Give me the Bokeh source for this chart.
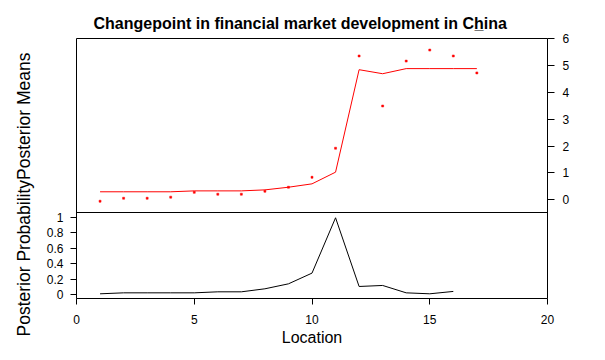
import math
from bokeh.plotting import figure
from bokeh.models import Range1d, LinearAxis, FixedTicker, Span, Title
from bokeh.embed import file_html
from bokeh.resources import INLINE

# ---------------- data ----------------
location = list(range(1, 18))
observed = [-0.05, 0.06, 0.06, 0.10, 0.28, 0.21, 0.21, 0.32, 0.47, 0.84,
            1.92, 5.35, 3.49, 5.16, 5.57, 5.35, 4.72]
posterior_mean = [0.30, 0.30, 0.30, 0.30, 0.334, 0.334, 0.334, 0.371, 0.47, 0.595,
                  1.03, 4.84, 4.69, 4.88, 4.88, 4.88, 4.88]
prob_location = list(range(1, 17))
posterior_prob = [0.0125, 0.025, 0.025, 0.025, 0.025, 0.038, 0.038, 0.077, 0.141, 0.279,
                  0.992, 0.107, 0.12, 0.025, 0.0125, 0.043]

x_ticks = [0, 5, 10, 15, 20]
mean_ticks = [0, 1, 2, 3, 4, 5, 6]
prob_ticks = [0, 0.2, 0.4, 0.6, 0.8, 1]
prob_tick_labels = ["0", "0.2", "0.4", "0.6", "0.8", "1"]

title_text = "Changepoint in financial market development in Ch\u0332ina"
ylabel_text = "Posterior ProbabilityPosterior Means"
xlabel_text = "Location"

# ---------------- layout ----------------
FONT = "Liberation Sans"
W, H = 600, 356
FRAME_H = 260
TOP_PX, BOT_PX = 174, 86
TOP_LIM = (-0.47, 6.0)
BOT_LIM = (-0.048, 1.06)

top_end = TOP_LIM[1]
top_start = TOP_LIM[1] - (TOP_LIM[1] - TOP_LIM[0]) * FRAME_H / TOP_PX
bot_start = BOT_LIM[0]
bot_end = BOT_LIM[0] + (BOT_LIM[1] - BOT_LIM[0]) * FRAME_H / BOT_PX

p = figure(width=W, height=H, output_backend="svg", toolbar_location=None,
           x_range=Range1d(0, 20), y_range=Range1d(bot_start, bot_end),
           min_border_left=76, min_border_right=W - 76 - 471, min_border_top=38,
           min_border_bottom=H - 38 - FRAME_H, x_axis_location=None, y_axis_location=None)
p.extra_y_ranges = {"top": Range1d(top_start, top_end)}
p.xgrid.visible = False
p.ygrid.visible = False
p.outline_line_color = "black"
p.outline_line_width = 1
p.outline_line_alpha = 1.0
p.background_fill_color = "white"
p.border_fill_color = "white"

p.title.text = title_text
p.title.align = "left"
p.title.offset = 17
p.title.standoff = 13
p.title.text_font = FONT
p.title.text_font_size = "16px"
p.title.text_font_style = "bold"
p.title.text_color = "black"


def style_axis(ax, tick_out, standoff):
    ax.axis_line_color = None
    ax.major_tick_in = 0
    ax.major_tick_out = tick_out
    ax.major_tick_line_color = "black"
    ax.minor_tick_line_color = None
    ax.major_label_text_font = FONT
    ax.major_label_text_font_size = "12px"
    ax.major_label_text_color = "black"
    ax.major_label_standoff = standoff
    ax.axis_label_text_font = FONT
    ax.axis_label_text_font_style = "normal"
    ax.axis_label_text_color = "black"


xaxis = LinearAxis(ticker=FixedTicker(ticks=x_ticks), axis_label=xlabel_text)
style_axis(xaxis, 6, 10)
xaxis.axis_label_text_font_size = "16px"
xaxis.axis_label_standoff = 2
p.add_layout(xaxis, "below")

left_axis = LinearAxis(ticker=FixedTicker(ticks=prob_ticks))
left_axis.major_label_overrides = {t: s for t, s in zip(prob_ticks, prob_tick_labels)}
style_axis(left_axis, 6, 7)
left_axis.major_label_orientation = "horizontal"
p.add_layout(left_axis, "left")

right_axis = LinearAxis(y_range_name="top", ticker=FixedTicker(ticks=mean_ticks))
style_axis(right_axis, 7, 8)
right_axis.major_label_orientation = "horizontal"
p.add_layout(right_axis, "right")

ytitle = Title(text=ylabel_text, align="left", offset=-38, standoff=20,
               text_font=FONT, text_font_size="17.5px", text_font_style="normal",
               text_color="black")
p.add_layout(ytitle, "left")

# panel divider
p.add_layout(Span(location=BOT_LIM[1], dimension="width",
                  line_color="black", line_width=1))

# top panel: posterior means
p.line(location, posterior_mean, y_range_name="top", line_color="red", line_width=1)
p.scatter(location, observed, y_range_name="top", marker="square", size=2,
          fill_color="red", line_color="red", line_width=0.5)

# bottom panel: posterior probability
p.line(prob_location, posterior_prob, line_color="black", line_width=1)

open("out.html", "w").write(file_html(p, INLINE))
